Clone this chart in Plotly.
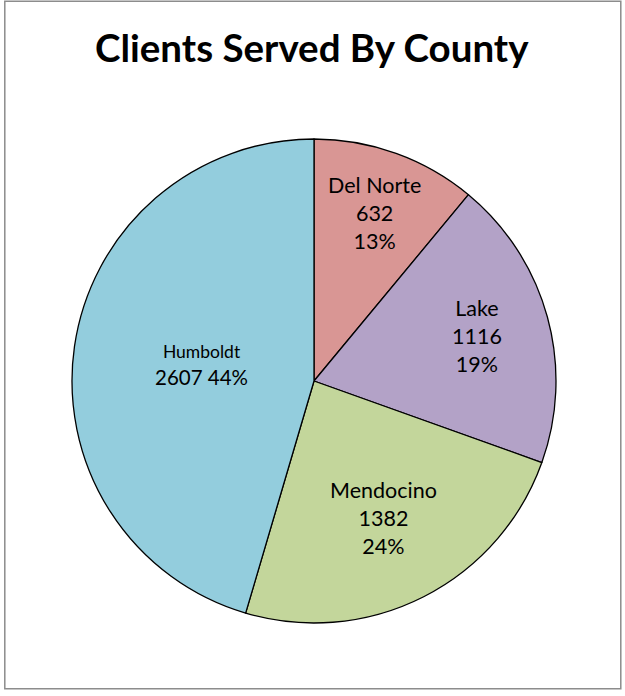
import math
import plotly.graph_objects as go

counties = ["Del Norte", "Lake", "Mendocino", "Humboldt"]
clients = [632, 1116, 1382, 2607]
pct_labels = ["13%", "19%", "24%", "44%"]
colors = ["#D99694", "#B3A2C7", "#C3D69B", "#93CDDD"]

W, H = 625, 696
cx, cy, R = 314, 381, 242
# radial placement of labels as fraction of radius (layout, not data)
label_r = [0.74, 0.70, 0.635, 0.47]

fig = go.Figure()
fig.add_trace(go.Pie(
    labels=counties, values=clients, sort=False, direction="clockwise",
    rotation=0, marker=dict(colors=colors, line=dict(color="#000000", width=1.3)),
    textinfo="none", hoverinfo="label+value", showlegend=False,
    domain=dict(x=[(cx - R) / W, (cx + R) / W], y=[1 - (cy + R) / H, 1 - (cy - R) / H]),
))

total = sum(clients)
cum = 0
annotations = []
for i, (name, v, p) in enumerate(zip(counties, clients, pct_labels)):
    mid = (cum + v / 2) / total * 2 * math.pi
    cum += v
    px = cx + R * label_r[i] * math.sin(mid)
    py = cy - R * label_r[i] * math.cos(mid)
    if name == "Humboldt":
        text = f"<span style='font-size:17.5px'>{name}</span><br>{v} {p}"
    else:
        text = f"{name}<br>{v}<br>{p}"
    annotations.append(dict(
        x=px / W, y=1 - py / H, xref="paper", yref="paper", text=text,
        showarrow=False, font=dict(family="Lato", size=21.5 if name != "Humboldt" else 20.5, color="#000000"),
        xanchor="center", yanchor="middle", align="center",
    ))

annotations.append(dict(
    x=312 / W, y=1 - 47 / H, xref="paper", yref="paper",
    text="<b>Clients Served By County</b>", showarrow=False,
    font=dict(family="Lato", size=38.5, color="#000000"),
    xanchor="center", yanchor="middle",
))

fig.update_layout(
    width=W, height=H, margin=dict(l=0, r=0, t=0, b=0),
    paper_bgcolor="#FFFFFF", plot_bgcolor="#FFFFFF",
    annotations=annotations,
    shapes=[dict(type="rect", xref="paper", yref="paper",
                 x0=4.8 / W, x1=620.8 / W, y0=1 - 688.8 / H, y1=1 - 1.2 / H,
                 line=dict(color="#8C8C8C", width=1.5))],
)

fig.write_html("out.html", config={"displayModeBar": False},
               post_script="document.body.style.margin='0';document.body.style.overflow='hidden';")
